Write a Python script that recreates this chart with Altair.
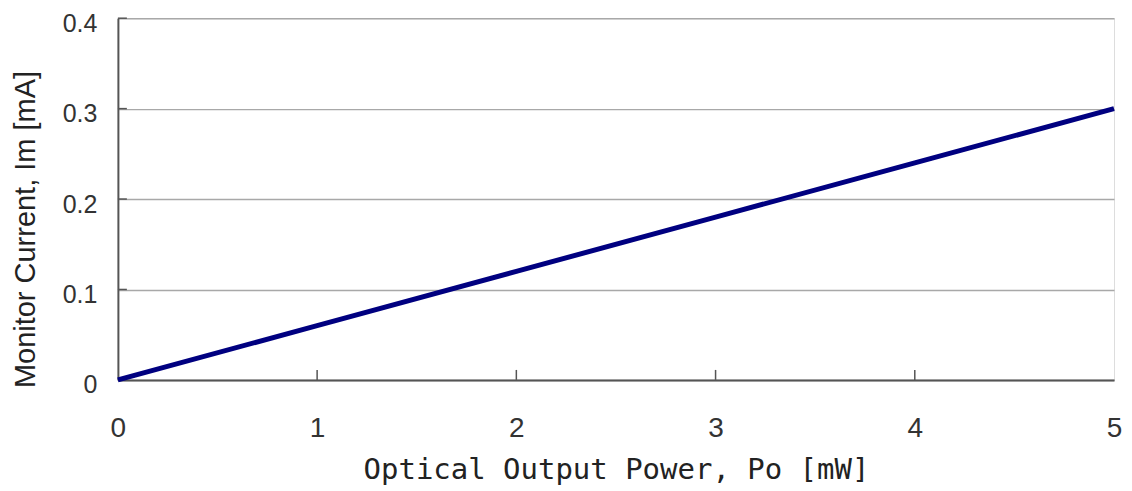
import altair as alt
import pandas as pd

power_mw = [0, 1, 2, 3, 4, 5]
monitor_ma = [0.0, 0.06, 0.12, 0.18, 0.24, 0.30]
x_ticks = [1, 2, 3, 4]
y_ticks = [0.1, 0.2, 0.3, 0.4]

df = pd.DataFrame({"p": power_mw, "im": monitor_ma})
dfx = pd.DataFrame({"v": x_ticks})
dfy = pd.DataFrame({"v": y_ticks})

FONT = "Liberation Sans"

xscale = alt.Scale(domain=[0, 5], nice=False, zero=False)
yscale = alt.Scale(domain=[0, 0.4], nice=False)

line = alt.Chart(df).mark_line(color="#000080", strokeWidth=5, strokeCap="butt").encode(
    x=alt.X("p:Q", scale=xscale,
            axis=alt.Axis(title="Optical Output Power, Po [mW]", values=[0, 1, 2, 3, 4, 5],
                          format="d", grid=False, ticks=False, tickSize=0,
                          labelPadding=35, labelFontSize=28, labelFont=FONT, labelColor="#333333",
                          labelFlush=False,
                          domainColor="#555555", domainWidth=2,
                          titleFont="DejaVu Sans Mono", titleFontSize=29, titleFontWeight="normal",
                          titleColor="#222222", titleY=90, titleBaseline="middle")),
    y=alt.Y("im:Q", scale=yscale,
            axis=alt.Axis(title="Monitor Current, Im [mA]", values=[0, 0.1, 0.2, 0.3, 0.4],
                          labelExpr="datum.value == 0 ? '0' : format(datum.value, '.1f')",
                          grid=True, gridColor="#a8a8a8", gridWidth=1.5,
                          ticks=False, tickSize=0, labelPadding=21, labelOffset=5,
                          labelFontSize=25, labelFont=FONT, labelColor="#333333",
                          labelFlush=False,
                          domainColor="#555555", domainWidth=2,
                          titleFont=FONT, titleFontSize=29, titleFontWeight="normal",
                          titleColor="#222222", titleX=-92, titleY=211,
                          titleBaseline="middle", titleAngle=270)),
)

xt = alt.Chart(dfx).mark_rule(color="#555555", strokeWidth=1.5).encode(
    x=alt.X("v:Q", scale=xscale),
    y=alt.Y(datum=0, scale=yscale),
    y2=alt.Y2(datum=0.011),
)
yt = alt.Chart(dfy).mark_rule(color="#555555", strokeWidth=1.5).encode(
    y=alt.Y("v:Q", scale=yscale),
    x=alt.X(datum=0, scale=xscale),
    x2=alt.X2(datum=0.045),
)

chart = alt.layer(xt, yt, line).properties(
    width=997, height=362,
    padding={"left": 110, "top": 10, "right": 10, "bottom": 110},
    autosize="none",
).configure_view(stroke="#999999", strokeWidth=2).configure(background="white")

chart.save("out.html", embed_options={"renderer": "svg", "actions": False})
